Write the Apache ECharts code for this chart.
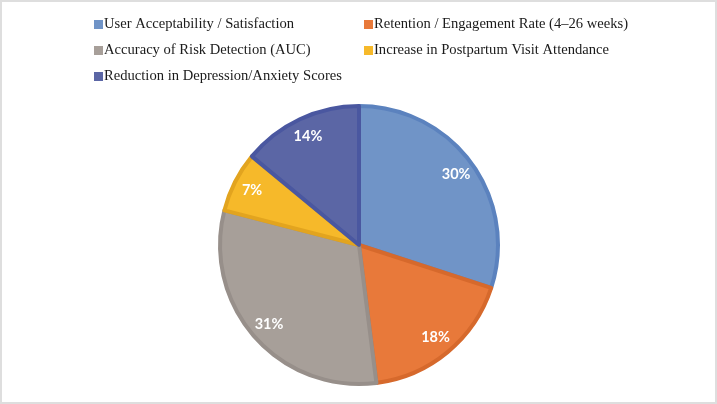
<!DOCTYPE html>
<html>
<head>
<meta charset="utf-8">
<script src="https://cdn.jsdelivr.net/npm/echarts@6/dist/echarts.min.js"></script>
<style>
  html, body { margin: 0; padding: 0; background: #fff; }
  #chart { width: 717px; height: 404px; box-sizing: border-box; border: 2px solid #dedede; }
</style>
</head>
<body>
<div id="chart"></div>
<script>
// 数据
const categories = [
  'User Acceptability / Satisfaction',
  'Retention / Engagement Rate (4–26 weeks)',
  'Accuracy of Risk Detection (AUC)',
  'Increase in Postpartum Visit Attendance',
  'Reduction in Depression/Anxiety Scores'
];
const shares = [30, 18, 31, 7, 14];
const fillColors = ['#7094c7', '#e8793a', '#a79f99', '#f6b92a', '#5b66a5'];
const edgeColors = ['#5b82be', '#d6692c', '#978f8a', '#e2a41f', '#4a57a0'];

const pieData = categories.map((name, i) => ({
  name: name,
  value: shares[i],
  itemStyle: { color: fillColors[i], borderColor: edgeColors[i] }
}));

const legendText = {
  color: '#1a1a1a',
  fontSize: 14.6,
  fontFamily: 'Liberation Serif',
  padding: [0, 0, 0, -4] // 图标和文字靠近一点
};
const legendBase = {
  orient: 'vertical',
  icon: 'rect',
  itemWidth: 9,
  itemHeight: 9,
  itemGap: 11,
  padding: 0,
  textStyle: legendText,
  itemStyle: { borderWidth: 0 },
  selectedMode: false
};

const chart = echarts.init(document.getElementById('chart'));
chart.setOption({
  animation: false,
  legend: [
    Object.assign({}, legendBase, { left: 92, top: 15, data: [categories[0], categories[2], categories[4]] }),
    Object.assign({}, legendBase, { left: 362, top: 15, data: [categories[1], categories[3]] })
  ],
  series: [
    {
      type: 'pie',
      center: [357, 243],
      radius: [0, 139],
      startAngle: 90,
      clockwise: true,
      itemStyle: { borderWidth: 4 },
      label: { show: false },
      labelLine: { show: false },
      emphasis: { disabled: true },
      data: pieData
    },
    {
      // 只用来放百分比文字
      type: 'pie',
      center: [357, 243],
      radius: [94, 140],
      startAngle: 90,
      silent: true,
      itemStyle: { color: 'rgba(0,0,0,0)', borderWidth: 0 },
      label: {
        show: true,
        position: 'inside',
        formatter: '{c}%',
        color: '#fff',
        fontSize: 14.5,
        fontWeight: 'bold',
        fontFamily: 'Lato'
      },
      labelLine: { show: false },
      emphasis: { disabled: true },
      data: categories.map((name, i) => ({ name: name, value: shares[i] }))
    }
  ]
});
</script>
</body>
</html>
